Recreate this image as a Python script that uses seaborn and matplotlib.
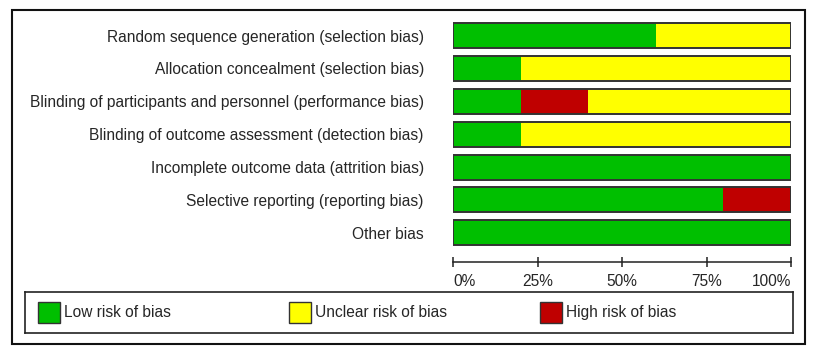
import matplotlib

matplotlib.use("Agg")
import matplotlib.pyplot as plt
from matplotlib.patches import Rectangle
import pandas as pd
import seaborn as sns

domains = [
    "Random sequence generation (selection bias)",
    "Allocation concealment (selection bias)",
    "Blinding of participants and personnel (performance bias)",
    "Blinding of outcome assessment (detection bias)",
    "Incomplete outcome data (attrition bias)",
    "Selective reporting (reporting bias)",
    "Other bias",
]
low_risk = [60, 20, 20, 20, 100, 80, 100]
high_risk = [0, 0, 20, 0, 0, 20, 0]
unclear_risk = [40, 80, 60, 80, 0, 0, 0]

legend_labels = ["Low risk of bias", "Unclear risk of bias", "High risk of bias"]
GREEN, YELLOW, RED = "#00bf00", "#ffff00", "#bf0000"
EDGE = "#333333"

sns.set_style("white")
plt.rcParams["font.family"] = ["Liberation Sans", "DejaVu Sans"]
FS = 11.2

df = pd.DataFrame({"domain": domains, "low": low_risk,
                   "high": high_risk, "unclear": unclear_risk})
df["low_high"] = df["low"] + df["high"]
df["total"] = df["low_high"] + df["unclear"]

W, H = 815, 353
fig = plt.figure(figsize=(W / 100, H / 100), dpi=100)
ax = fig.add_axes([453 / W, 1 - 261.7 / H, 338 / W, 242.6 / H])

# stacked segments drawn as overlaid cumulative bars (order: low, high, unclear)
sns.barplot(data=df, x="total", y="domain", color=YELLOW, saturation=1,
            width=0.76, linewidth=0, ax=ax)
sns.barplot(data=df, x="low_high", y="domain", color=RED, saturation=1,
            width=0.76, linewidth=0, ax=ax)
sns.barplot(data=df, x="low", y="domain", color=GREEN, saturation=1,
            width=0.76, linewidth=0, ax=ax)
sns.barplot(data=df, x="total", y="domain", fill=False, edgecolor=EDGE,
            width=0.76, linewidth=1.4, ax=ax)

ax.set_xlim(0, 100)
ax.set_ylim(6.88, -0.5)
ax.set_xlabel("")
ax.set_ylabel("")
for s in ["top", "right", "left"]:
    ax.spines[s].set_visible(False)
ax.spines["bottom"].set_color("#222222")
ax.spines["bottom"].set_linewidth(1.1)

ax.set_xticks([0, 25, 50, 75, 100])
ax.set_xticklabels(["0%", "25%", "50%", "75%", "100%"], fontsize=FS)
ax.tick_params(axis="x", direction="inout", length=7, width=1.1,
               color="#222222", pad=5, bottom=True)
xl = ax.get_xticklabels()
xl[0].set_horizontalalignment("left")
xl[-1].set_horizontalalignment("right")
ax.tick_params(axis="y", length=0, pad=21, labelsize=FS)

# outer frame
fig.patches.append(Rectangle((12 / W, 1 - 344 / H), 793 / W, 334 / H,
                             transform=fig.transFigure, fill=False,
                             edgecolor="#111111", linewidth=1.5))

# legend box
lax = fig.add_axes([25 / W, 1 - 333 / H, 768 / W, 41 / H])
lax.set_xlim(25, 793)
lax.set_ylim(333, 292)
lax.set_xticks([])
lax.set_yticks([])
for s in lax.spines.values():
    s.set_color("#222222")
    s.set_linewidth(1.2)
for i, (lab, col) in enumerate(zip(legend_labels, [GREEN, YELLOW, RED])):
    x0 = 38 + i * 251
    lax.add_patch(Rectangle((x0, 302), 22, 21, facecolor=col,
                            edgecolor=EDGE, linewidth=1.0))
    lax.text(x0 + 26, 312.5, lab, fontsize=FS, va="center", ha="left")

fig.savefig("out.png", dpi=100)
